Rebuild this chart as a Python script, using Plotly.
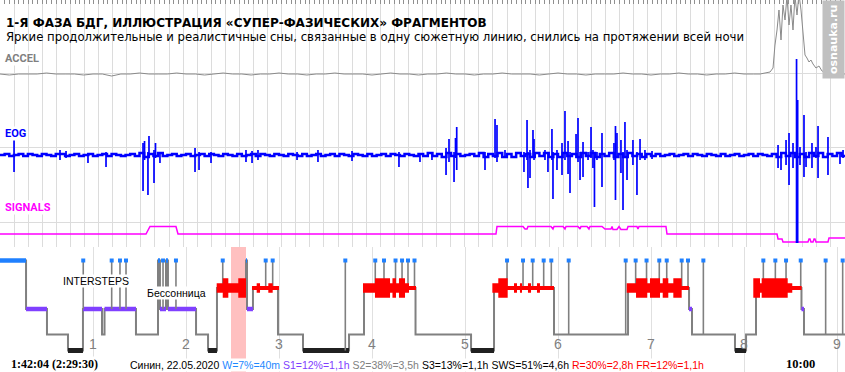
import plotly.graph_objects as go

# ---------------- DATA ----------------
TITLE = "1-Я ФАЗА БДГ, ИЛЛЮСТРАЦИЯ «СУПЕР-ФАЗИЧЕСКИХ» ФРАГМЕНТОВ"
SUBTITLE = ("Яркие продолжительные и реалистичные сны, связанные в одну сюжетную линию, "
            "снились на протяжении всей ночи")
WATERMARK = "osnauka.ru"
HOUR_LABELS = [1, 2, 3, 4, 5, 6, 7, 8, 9]
CLOCK_LEFT = "1:42:04 (2:29:30)"
CLOCK_RIGHT = "10:00"
STATS_TEXT = ["Синин, 22.05.2020", "W=7%=40m", "S1=12%=1,1h", "S2=38%=3,5h",
              "S3=13%=1,1h", "SWS=51%=4,6h", "R=30%=2,8h", "FR=12%=1,1h"]
STATS_COLOR = ["#000000", "#1e88ff", "#8040ff", "#808080",
               "#000000", "#000000", "#ff0000", "#ff0000"]

# hypnogram: stage change times (hours from start) and stages
STAGE_T = [0.000, 0.280, 0.505, 0.731, 0.892, 1.097, 1.124, 1.462, 1.699, 1.720,
           1.785, 1.806, 2.108, 2.237, 2.333, 2.645, 2.656, 2.720, 2.989, 3.258,
           3.753, 3.914, 4.468, 5.065, 5.312, 5.957, 6.753, 7.409, 7.441, 7.903,
           8.022, 8.129, 8.618, 8.645]
STAGE = ["W", "S1", "S2", "S3", "S1", "S2", "S1", "S2", "W", "S1",
         "W", "S1", "S2", "S3", "R", "W", "S1", "R", "S2", "S3",
         "S2", "R", "S2", "S3", "R", "S2", "R", "S1", "S2", "S3",
         "S2", "R", "S1", "S2"]

# brief awakenings ("intersteps")
INTERSTEP_T = [0.895, 1.201, 1.290, 1.355, 1.753, 1.892, 2.395, 2.857, 2.932, 3.713,
               4.035, 4.129, 4.253, 4.323, 4.387, 4.457, 5.452, 5.624, 5.728, 5.846,
               5.928, 6.115, 6.728, 6.835, 6.952, 7.089, 7.169, 7.330, 7.398, 7.563,
               8.208, 8.337, 8.452, 8.610, 8.878, 9.061]

# REM density segments
REM_T0 = [2.330, 2.395, 2.455, 2.562, 2.710, 2.760, 2.796, 2.885, 2.932,
          3.903, 4.032, 4.194, 4.220, 4.258, 4.290, 4.355, 4.398,
          5.294, 5.358, 5.459, 5.527, 5.559, 5.591, 5.613, 5.677, 5.710, 5.774, 5.806,
          6.739, 6.839, 6.960, 6.989, 7.097, 7.126, 7.186, 7.240, 7.330,
          8.100, 8.172, 8.190, 8.470, 8.519]
REM_T1 = [2.395, 2.455, 2.562, 2.645, 2.760, 2.796, 2.885, 2.932, 3.000,
          4.032, 4.194, 4.220, 4.258, 4.290, 4.355, 4.398, 4.473,
          5.358, 5.459, 5.527, 5.559, 5.591, 5.613, 5.677, 5.710, 5.774, 5.806, 5.957,
          6.839, 6.960, 6.989, 7.097, 7.126, 7.186, 7.240, 7.330, 7.409,
          8.172, 8.190, 8.470, 8.519, 8.620]
REM_DENSITY = [2, 3, 2, 3, 1, 2, 1, 2, 1,
               2, 3, 2, 3, 2, 3, 2, 1,
               2, 3, 1, 2, 1, 2, 1, 2, 1, 2, 1,
               2, 3, 2, 3, 2, 3, 2, 3, 1,
               3, 2, 3, 2, 1]

HIGHLIGHT_T = [2.484, 2.645]

# EOG: background activity sampled every 0.05 h, plus individual deflections
EOG_STEP_H = 0.05
EOG_BASE = [
    0, 1, -1, 0, 1, -1, 1, 0, -1, 1, 0, -1, 1, 1, -1, 0, 1, -1, 0, 1,
    -1, 0, 1, -1, 1, 0, -1, 0, 1, -1, 2, -2, 1, -1, 2, -1, 0, 1, -1, 0,
    1, -1, 0, 1, -1, 1, 0, -1, 1, 0, -1, 1, -1, 0, 1, -1, 1, 0, -1, 1,
    0, -1, 1, 0, -1, 1, -1, 0, 1, -1, 0, 1, -1, 1, 0, -1, 1, 0, -1, 1,
    -1, 0, 1, -1, 1, 0, -1, 1, 0, -1, 1, -1, 2, -1, 1, -2, 2, -1, 1, -1,
    0, 1, -1, 2, -2, 1, -1, 2, -2, 1, -2, 2, -1, 1, -2, 2, -1, 2, -2, 1,
    -2, 2, -1, 1, -2, 2, -1, 2, -2, 1, -1, 2, -2, 1, -2, 2, -1, 1, -2, 1,
    -1, 1, -1, 0, 1, -1, 0, 1, -1, 1, 0, -1, 1, 0, -1, 1, -1, 0, 1, -1,
    0, 1, -1, 1, 0, -1, 1, -2, 2, -1, 2, -2, 1, -2, 2, -1, 2, -2, 1, -1, 2, -1,
]
EOG_SPIKE_T = [0.151, 0.645, 0.710, 0.946, 1.140, 1.538, 1.554, 1.591, 1.602, 1.656,
               1.672, 1.720, 2.097, 2.140, 2.269, 2.645, 2.710, 2.774, 3.194, 3.419,
               3.785, 4.290, 4.516, 4.645, 4.796, 4.828, 4.882, 4.898, 4.911, 5.215,
               5.323, 5.344, 5.430, 5.634, 5.667, 5.677, 5.699, 5.731, 5.742, 5.860,
               5.892, 5.935, 5.946, 5.989, 6.043, 6.075, 6.108, 6.129, 6.194, 6.215,
               6.237, 6.269, 6.323, 6.355, 6.376, 6.392, 6.419, 6.473, 6.602, 6.618,
               6.634, 6.677, 6.699, 6.720, 6.742, 6.806, 6.849, 6.882, 6.935, 7.011,
               8.366, 8.398, 8.452, 8.484, 8.527, 8.565, 8.577, 8.602, 8.645, 8.667,
               8.731, 8.774, 8.796, 8.903, 9.032, 9.065]
EOG_SPIKE_UP = [16, 5, 4, 2, 3, 12, 14, 3, 19, 5, 12, 3, 7, 3, 3, 5, 4, 5, 3, 5,
                4, 3, 2, 2, 7, 16, 3, 17, 28, 3, 36, 30, 5, 3, 35, 3, 5, 25, 16, 5,
                3, 26, 3, 5, 12, 44, 14, 3, 21, 37, 3, 13, 3, 28, 5, 3, 3, 22, 12, 29,
                22, 15, 3, 33, 5, 15, 3, 16, 5, 4, 10, 3, 15, 22, 12, 96, 55, 8, 40, 3,
                12, 8, 29, 18, 3, 5]
EOG_SPIKE_DOWN = [17, 5, 3, 8, 12, 36, 5, 40, 2, 28, 3, 8, 17, 15, 8, 7, 8, 5, 5, 7,
                  6, 12, 7, 5, 20, 7, 27, 3, 15, 15, 3, 7, 3, 17, 5, 33, 23, 3, 5, 5,
                  17, 5, 44, 15, 20, 5, 19, 38, 3, 7, 25, 22, 5, 3, 13, 52, 5, 32, 5, 45,
                  3, 18, 55, 3, 25, 10, 40, 5, 5, 4, 13, 15, 10, 30, 13, 88, 88, 10, 22, 12,
                  13, 3, 23, 20, 9, 3]

# ACCEL: quiet part sampled every 0.1 h, then the movement burst near the end
ACCEL_STEP_H = 0.1
ACCEL_QUIET = [0, -1, 0, 0, 0, 1, 0, 0, 0, -1,
               0, 0, -2, 0, 0, 1, 0, 0, 0, 1,
               0, 0, -1, 0, 1, 0, 0, -1, 0, 0,
               1, 0, 0, -1, 0, 0, 1, 0, 0, 0,
               -1, 0, 1, 0, 0, -1, 0, 0, 1, 0,
               0, -1, 0, 0, 1, 0, 0, 0, -1, 0,
               1, 0, 0, -1, 0, 0, 0, 1, 0, 0,
               -1, 0, 0, 1, 0, 0, -1, 0, 0, 1,
               0, 0]
ACCEL_BURST_T = [8.172, 8.226, 8.280, 8.312, 8.333, 8.355, 8.376, 8.398, 8.419, 8.441,
                 8.462, 8.484, 8.505, 8.527, 8.548, 8.570, 8.591, 8.613, 8.634, 8.656,
                 8.677, 8.699, 8.720, 8.742, 8.774, 8.806, 8.839, 8.882, 8.925, 8.989,
                 9.054, 9.086]
ACCEL_BURST_V = [0, 1, 2, 6, 29, 44, 64, 34, 69, 54,
                 78, 49, 69, 44, 78, 59, 80, 64, 39, 19,
                 16, 12, 14, 10, 6, 8, 3, 1, 0, 0,
                 0, 0]

# SIGNALS channel
SIGNAL_T = [0, 1.570, 1.613, 1.892, 1.914, 5.333, 5.344, 5.624, 5.645, 5.667,
            5.677, 5.925, 5.946, 5.957, 6.054, 6.075, 6.086, 6.215, 6.237, 6.247,
            6.312, 6.333, 6.344, 6.473, 6.505, 6.570, 6.581, 6.591, 6.634, 6.656,
            6.677, 6.742, 6.753, 6.849, 6.860, 6.871, 7.161, 7.172, 8.355, 8.366,
            8.409, 8.419, 8.688, 8.699, 8.710, 8.720, 8.742, 8.753, 8.763, 8.774,
            8.903, 8.914, 9.086]
SIGNAL_V = [0, 0, 7.5, 7.5, 0, 0, 7.5, 7.5, 5, 5,
            7.5, 7.5, 5, 7.5, 7.5, 5, 7.5, 7.5, 5, 7.5,
            7.5, 5, 7.5, 7.5, 5, 5, 7.5, 4.5, 4.5, 7.5,
            4.5, 4.5, 7.5, 7.5, 5, 7.5, 7.5, 0, 0, -5,
            -5, -8, -8, -5, -5, -8, -8, -5, -5, -8,
            -8, -4, -4]

# ---------------- LAYOUT CONSTANTS ----------------
FIG_W, FIG_H = 845, 372
HOUR_PX = 93.0
T_END = FIG_W / HOUR_PX
SPLIT_PX = 247
LOW_H = FIG_H - SPLIT_PX

def px_x(p):
    return p / FIG_W

def px_y(p):
    return 1 - p / FIG_H

STAGE_Y = {"W": 13.5, "R": 41, "S1": 62, "S2": 87.5, "S3": 103.5}
STAGE_COLOR = {"W": "#1f80ff", "S1": "#8040ff", "S3": "#202020"}
STAGE_WIDTH = {"W": 4.5, "S1": 4.5, "S3": 5}
REM_THICK = {1: 4.0, 2: 9.5, 3: 19.5}
GRAY = "#808080"
ACCEL_Y0, EOG_Y0, SIG_Y0 = -74, -155, -234

fig = go.Figure()

# ---------- upper panel ----------
acc_t = [i * ACCEL_STEP_H for i in range(len(ACCEL_QUIET))] + ACCEL_BURST_T
acc_v = ACCEL_QUIET + ACCEL_BURST_V
fig.add_trace(go.Scatter(x=acc_t, y=[ACCEL_Y0 + v for v in acc_v], mode="lines",
                         line=dict(color="#8a8a8a", width=1), xaxis="x2", yaxis="y2",
                         hoverinfo="skip"))
fig.add_trace(go.Scatter(x=SIGNAL_T, y=[SIG_Y0 + v for v in SIGNAL_V], mode="lines",
                         line=dict(color="#ff00ff", width=1.5), xaxis="x2", yaxis="y2",
                         hoverinfo="skip"))
eog_t = [i * EOG_STEP_H for i in range(len(EOG_BASE))] + [T_END]
eog_v = EOG_BASE + [EOG_BASE[-1]]
fig.add_trace(go.Scatter(x=eog_t, y=[EOG_Y0 + v for v in eog_v], mode="lines",
                         line=dict(color="#0000ff", width=2.5, shape="hv"),
                         xaxis="x2", yaxis="y2", hoverinfo="skip"))
sx, sy = [], []
for t, u, d in zip(EOG_SPIKE_T, EOG_SPIKE_UP, EOG_SPIKE_DOWN):
    sx += [t, t, None]
    sy += [EOG_Y0 + u, EOG_Y0 - d, None]
fig.add_trace(go.Scatter(x=sx, y=sy, mode="lines", line=dict(color="#0000ff", width=1.7),
                         xaxis="x2", yaxis="y2", hoverinfo="skip"))

# ---------- hypnogram ----------
st_x = STAGE_T + [T_END]
st_y = [STAGE_Y[s] for s in STAGE] + [STAGE_Y[STAGE[-1]]]
fig.add_trace(go.Scatter(x=st_x, y=st_y, mode="lines",
                         line=dict(color=GRAY, width=2, shape="hv"), hoverinfo="skip"))

for stage in ["W", "S1", "S3"]:
    xs, ys = [], []
    for i, s in enumerate(STAGE):
        if s != stage:
            continue
        a = STAGE_T[i]
        b = STAGE_T[i + 1] if i + 1 < len(STAGE_T) else T_END
        xs += [a, b, None]
        ys += [STAGE_Y[s], STAGE_Y[s], None]
    fig.add_trace(go.Scatter(x=xs, y=ys, mode="lines",
                             line=dict(color=STAGE_COLOR[stage], width=STAGE_WIDTH[stage]),
                             hoverinfo="skip"))

def stage_at(t):
    cur = STAGE[0]
    for ts, s in zip(STAGE_T, STAGE):
        if ts <= t:
            cur = s
    return cur

ix, iy = [], []
for t in INTERSTEP_T:
    ix += [t, t, None]
    iy += [STAGE_Y["W"], STAGE_Y[stage_at(t)], None]
fig.add_trace(go.Scatter(x=ix, y=iy, mode="lines", line=dict(color=GRAY, width=1.6),
                         hoverinfo="skip"))

rx, ry = [], []
for a, b, d in zip(REM_T0, REM_T1, REM_DENSITY):
    h = REM_THICK[d] / 2
    c = STAGE_Y["R"]
    rx += [a, b, b, a, a, None]
    ry += [c - h, c - h, c + h, c + h, c - h, None]
fig.add_trace(go.Scatter(x=rx, y=ry, mode="lines", fill="toself", fillcolor="#ff0000",
                         line=dict(width=0, color="#ff0000"), hoverinfo="skip"))

fig.add_trace(go.Scatter(x=INTERSTEP_T, y=[STAGE_Y["W"]] * len(INTERSTEP_T), mode="markers",
                         marker=dict(symbol="square", size=4, color=STAGE_COLOR["W"],
                                     line=dict(width=0)), hoverinfo="skip"))

# ---------- annotations ----------
ann = []
def txt(text, xpx, ypx, size, color="#000000", family="DejaVu Sans", xanchor="left",
        bg=None, **kw):
    d = dict(text=text, x=px_x(xpx), y=px_y(ypx), xref="paper", yref="paper",
             xanchor=xanchor, yanchor="middle", showarrow=False,
             font=dict(family=family, size=size, color=color), borderpad=0)
    if bg:
        d["bgcolor"] = bg
    d.update(kw)
    ann.append(d)

txt("<b>" + TITLE + "</b>", 5, 22.5, 12)
txt(SUBTITLE, 5, 37, 11.7)
txt("<b>ACCEL</b>", 4, 58.5, 11, "#808080", "Roboto", bg="white")
txt("<b>EOG</b>", 4, 133.5, 11, "#0000ff", "Roboto", bg="white")
txt("<b>SIGNALS</b>", 4, 207.5, 11, "#ff00ff", "Roboto", bg="white")
txt("INTERSTEPS", 96, 280.5, 10.5, "#000000", "Liberation Sans", xanchor="center", bg="white")
txt("Бессонница", 176, 292.5, 10.5, "#000000", "Liberation Sans", xanchor="center", bg="white")
txt("<b>" + CLOCK_LEFT + "</b>", 10, 364, 12, "#000000", "Liberation Serif", bg="white")
txt("<b>" + CLOCK_RIGHT + "</b>", 785, 363.5, 12.5, "#000000", "Liberation Serif", bg="white")
stats = " ".join('<span style="color:%s">%s</span>' % (c, s)
                 for s, c in zip(STATS_TEXT, STATS_COLOR))
txt(stats, 129, 365, 10.5, "#000000", "Liberation Sans", bg="white")

# vertical watermark in a grey box at the top-right corner
ann.append(dict(text="<b>" + WATERMARK + "</b>", x=1, y=1, xref="paper", yref="paper",
                xanchor="right", yanchor="top", showarrow=False, textangle=-90,
                font=dict(family="DejaVu Sans", size=11, color="white"),
                bgcolor="#c0c0c0", borderpad=4))

for h in HOUR_LABELS:
    ann.append(dict(text=str(h), x=h, y=px_y(343.5), xref="x", yref="paper",
                    xanchor="center", yanchor="middle", showarrow=False,
                    font=dict(family="Liberation Sans", size=14, color="#808080")))

fig.update_layout(
    width=FIG_W, height=FIG_H,
    margin=dict(l=0, r=0, t=0, b=0),
    paper_bgcolor="white", plot_bgcolor="white",
    showlegend=False,
    annotations=ann,
    shapes=[dict(type="rect", xref="x", yref="y", x0=HIGHLIGHT_T[0], x1=HIGHLIGHT_T[1],
                 y0=0, y1=LOW_H, fillcolor="#ffc0c0", line=dict(width=0), layer="below")],
    xaxis=dict(domain=[0, 1], range=[0, T_END], anchor="y", showgrid=True, dtick=1, tick0=0,
               gridcolor="#e0e0e0", gridwidth=1, showticklabels=False, ticks="",
               zeroline=False, showline=False, fixedrange=True),
    yaxis=dict(domain=[0, LOW_H / FIG_H], range=[LOW_H, 0], showgrid=False, zeroline=False,
               showticklabels=False, ticks="", showline=False, fixedrange=True),
    xaxis2=dict(domain=[0, 1], range=[0, T_END], anchor="y2", side="top", showgrid=True,
                dtick=T_END / 60, tick0=0, gridcolor="#dcdcdc", gridwidth=1,
                showticklabels=False, ticks="inside", ticklen=4, tickcolor="#909090",
                minor=dict(dtick=T_END / 180, tick0=0, ticks="inside", ticklen=4,
                           tickcolor="#909090", showgrid=False),
                zeroline=False, showline=False, fixedrange=True),
    yaxis2=dict(domain=[LOW_H / FIG_H, 1], range=[-SPLIT_PX, 0], tick0=-222, dtick=74.5,
                showgrid=True, gridcolor="#dcdcdc", gridwidth=1, zeroline=False,
                showticklabels=False, ticks="", showline=False, fixedrange=True),
)

fig.write_html("out.html", config={"displayModeBar": False},
               post_script="document.body.style.margin='0';document.body.style.overflow='hidden';")
